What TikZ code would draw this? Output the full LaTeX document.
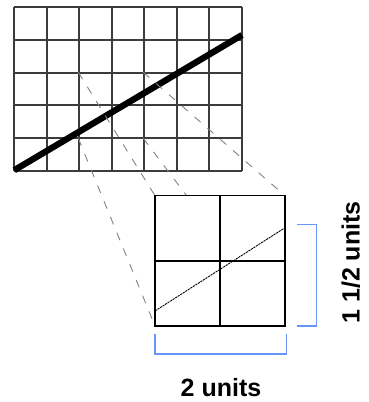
\documentclass[tikz,border=0pt]{standalone}
\usepackage{fontspec}
\setmainfont{Liberation Sans}
\usetikzlibrary{calc}
\definecolor{bracketblue}{RGB}{102,150,250}
\definecolor{gridgray}{RGB}{60,60,60}
\definecolor{projgray}{RGB}{130,130,130}
\begin{document}
\begin{tikzpicture}[x=1pt,y=-1pt,
  gridline/.style={draw=gridgray,line width=1.8pt},
  sqline/.style={draw=black,line width=1.5pt},
  projline/.style={draw=projgray,line width=0.9pt,dash pattern=on 8pt off 9pt},
  bracket/.style={draw=bracketblue,line width=1.4pt},
  biglabel/.style={font=\fontsize{25}{30}\selectfont\bfseries,inner sep=0pt}]
\useasboundingbox (0,0) rectangle (369,402);
% top grid
\foreach \i in {0,...,7} {
  \draw[gridline] ({14.3+\i*32.49},7.3) -- ({14.3+\i*32.49},170.7);
}
\foreach \j in {0,...,5} {
  \draw[gridline] (14.3,{7.3+\j*32.68}) -- (241.7,{7.3+\j*32.68});
}
% thick line
\coordinate (ls) at (14.3,170.2);
\coordinate (le) at (242,35);
\draw[line width=6.3pt] (ls) -- (le);
% zoomed region corners in the top grid
\coordinate (r-nw) at (78.3,72.3);
\coordinate (r-ne) at (143.3,72.3);
\coordinate (r-sw) at (78.3,138.3);
\coordinate (r-se) at (143.3,138.3);
% enlarged square corners
\coordinate (s-nw) at (155,195.7);
\coordinate (s-ne) at (285,195.7);
\coordinate (s-sw) at (155,326);
\coordinate (s-se) at (285,326);
% projection lines
\draw[projline] (r-nw) -- (s-nw);
\draw[projline] (r-ne) -- (s-ne);
\draw[projline] (r-sw) -- (s-sw);
\draw[projline] (r-se) -- (s-se);
% enlarged square
\fill[white] (s-nw) rectangle (s-se);
\draw[sqline] (s-nw) rectangle (s-se);
\draw[sqline] ($(s-nw)!0.5!(s-ne)$) -- ($(s-sw)!0.5!(s-se)$);
\draw[sqline] ($(s-nw)!0.5!(s-sw)$) -- ($(s-ne)!0.5!(s-se)$);
\coordinate (zs) at (155,311);
\coordinate (ze) at (285,227.7);
\draw[line width=0.9pt,dash pattern=on 2.2pt off 0.8pt] (zs) -- (ze);
% brackets
\coordinate (b1a) at (296.7,224.3);
\coordinate (b1b) at (316.7,224.3);
\coordinate (b1c) at (316.7,326);
\coordinate (b1d) at (296.7,326);
\draw[bracket] (b1a) -- (b1b) -- (b1c) -- (b1d);
\coordinate (b2a) at (155,334);
\coordinate (b2b) at (155,354);
\coordinate (b2c) at (286.7,354);
\coordinate (b2d) at (286.7,334);
\draw[bracket] (b2a) -- (b2b) -- (b2c) -- (b2d);
% labels
\node[biglabel,anchor=base] (wlabel) at (221,396.8) {2 units};
\node[biglabel,anchor=base,rotate=90] (hlabel) at (359.5,262.5) {1 1/2 units};
\end{tikzpicture}
\end{document}
